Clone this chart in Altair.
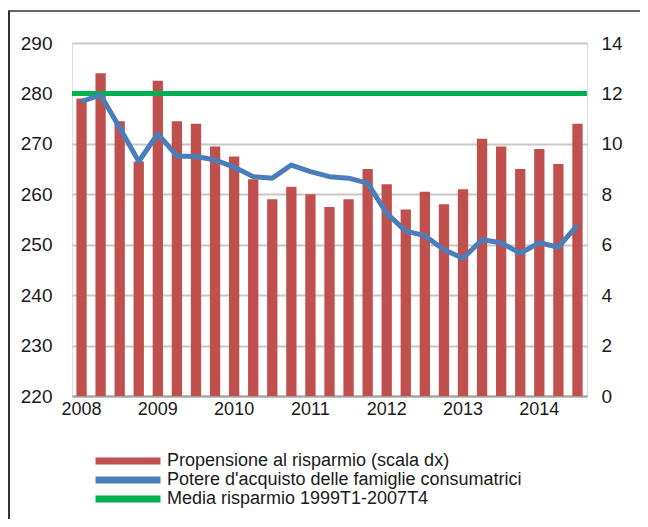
import altair as alt
import pandas as pd

quarters = [f"{y}T{q}" for y in range(2008, 2015) for q in range(1, 5)][:27]

# Propensione al risparmio (scala dx), %
saving = [11.8, 12.8, 10.9, 9.3, 12.5, 10.9, 10.8, 9.9,
          9.5, 8.6, 7.8, 8.3, 8.0, 7.5, 7.8, 9.0,
          8.4, 7.4, 8.1, 7.6, 8.2, 10.2, 9.9, 9.0,
          9.8, 9.2, 10.8]

# Potere d'acquisto delle famiglie consumatrici (scala sx)
power = [278.4, 279.7, 273.2, 266.5, 272.0, 267.6, 267.5, 266.8,
         265.4, 263.5, 263.2, 265.8, 264.5, 263.5, 263.2, 262.2,
         256.2, 252.7, 251.8, 249.0, 247.3, 251.0, 250.4, 248.3,
         250.4, 249.5, 253.9]

media_risparmio = 12

series_names = ["Propensione al risparmio (scala dx)",
                "Potere d'acquisto delle famiglie consumatrici",
                "Media risparmio 1999T1-2007T4"]
series_colors = ["#c0504d", "#4a7ebb", "#00b050"]

left_ticks = [220, 230, 240, 250, 260, 270, 280, 290]
right_ticks = [0, 2, 4, 6, 8, 10, 12, 14]

df = pd.DataFrame({"q": quarters, "saving": saving, "power": power,
                   "s": [series_names[0]] * len(quarters)})
df_media = pd.DataFrame({"v": [media_risparmio]})
df_one = pd.DataFrame({"a": [0]})

FONT = "Liberation Sans"
TXT = "#1a1a1a"
xenc = alt.X("q:N", sort=quarters,
             scale=alt.Scale(paddingInner=0.46, paddingOuter=0.23),
             axis=alt.Axis(title=None, ticks=False, labelAngle=0, labelOverlap=False,
                           labelExpr="indexof(datum.value, 'T1') > 0 ? substring(datum.value, 0, 4) : ''",
                           domainColor="#a0a0a0", domainWidth=2, labelPadding=4,
                           labelFontSize=18, labelColor=TXT, labelFont=FONT))

bars = alt.Chart(df).mark_bar(opacity=1).encode(
    x=xenc,
    y=alt.Y("saving:Q", scale=alt.Scale(domain=[0, 14], nice=False, zero=True),
            axis=alt.Axis(orient="right", values=right_ticks, grid=False, domain=False,
                          ticks=False, title=None, labelPadding=14, labelFontSize=19,
                          labelColor=TXT, labelFont=FONT)),
    color=alt.Color("s:N",
                    scale=alt.Scale(domain=series_names, range=series_colors),
                    legend=alt.Legend(title=None, orient="none", legendX=23, legendY=409,
                                      direction="vertical",
                                      symbolType="M-1.06,-0.44H7.06V0.44H-1.06Z",
                                      symbolSize=256, symbolStrokeWidth=0,
                                      symbolOpacity=1, labelFontSize=18, labelFont=FONT,
                                      labelColor=TXT, labelOffset=54,
                                      rowPadding=1, padding=0, labelLimit=500)),
)

rule = alt.Chart(df_media).mark_rule(color=series_colors[2], strokeWidth=5).encode(
    y=alt.Y("v:Q")
)

line = alt.Chart(df).mark_line(color=series_colors[1], strokeWidth=5, strokeJoin="round").encode(
    x=xenc,
    y=alt.Y("power:Q", scale=alt.Scale(domain=[220, 290], nice=False, zero=False),
            axis=alt.Axis(orient="left", values=left_ticks, grid=True, gridColor="#c8c8c8",
                          gridWidth=2, domain=False, ticks=False, title=None, labelPadding=20,
                          labelFontSize=19, labelColor=TXT, labelFont=FONT)),
)

frame_top = alt.Chart(df_one).mark_rule(color="#333333", strokeWidth=1.5).encode(
    x=alt.value(-64), x2=alt.value(580), y=alt.value(-32))
frame_left = alt.Chart(df_one).mark_rule(color="#333333", strokeWidth=2).encode(
    x=alt.value(-63), y=alt.value(-32), y2=alt.value(490))

inner = alt.layer(bars, rule)
chart = alt.layer(inner, line, frame_top, frame_left).resolve_scale(y="independent").properties(
    width=515, height=353,
    padding={"left": 64, "top": 35, "right": 53, "bottom": 123},
    autosize="none",
).configure_view(stroke=None).configure(background="white", font=FONT)

chart.save("out.html", embed_options={"renderer": "svg", "actions": False})
